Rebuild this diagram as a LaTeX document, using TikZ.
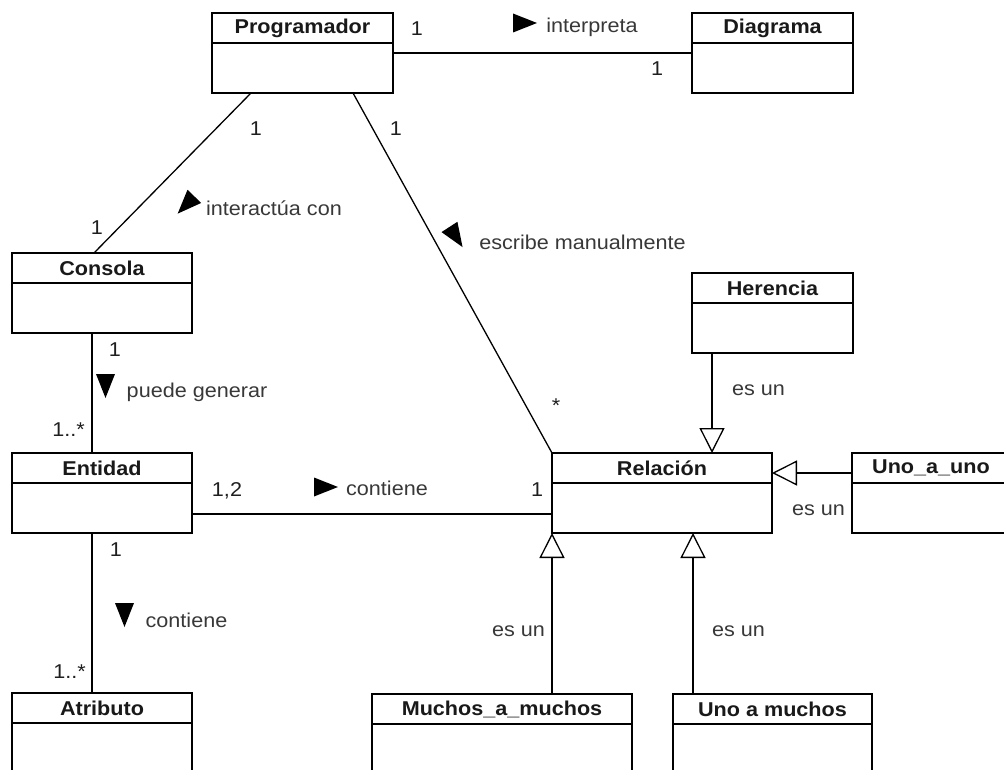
\documentclass[tikz,border=0pt]{standalone}
\usepackage{fontspec}
\setmainfont{Liberation Sans}[FakeStretch=1.08]
\usetikzlibrary{arrows.meta}

% class box: name, left, top, width, height, title
\newcommand\umlclass[6]{%
  \node[classbox, minimum width=#4pt, minimum height=#5pt] (#1) at (#2,#3) {};
  \draw[divider] ([yshift=-30pt]#1.north west) -- ([yshift=-30pt]#1.north east);
  \node[classname] (#1-title) at ([yshift=-15pt]#1.north) {#6};
}

\begin{document}
\begin{tikzpicture}[x=1pt,y=-1pt,
  classbox/.style={draw, line width=1.8pt, rectangle, anchor=north west,
    inner sep=0pt, outer sep=0pt, fill=white},
  divider/.style={line width=1.6pt},
  classname/.style={font=\fontsize{20pt}{22pt}\selectfont\bfseries, text=black!90, inner sep=0pt},
  assoc/.style={line width=1.3pt},
  isa/.style={line width=1.3pt, -{Triangle[open, length=25pt, width=25pt, fill=white]}},
  lbl/.style={font=\fontsize{20pt}{22pt}\selectfont, text=black!78, inner sep=0pt},
  mult/.style={font=\fontsize{20pt}{22pt}\selectfont, text=black!88, inner sep=0pt},
  dirtri/.pic={\fill[black] (-12,-9.5) -- (12,0) -- (-12,9.5) -- cycle;}
]
\useasboundingbox (0,0) rectangle (1004,770);
\clip (0,0) rectangle (1004,770);

% classes
\umlclass{prog}{212}{13}{181}{80}{Programador}
\umlclass{diag}{692}{13}{161}{80}{Diagrama}
\umlclass{cons}{12}{253}{180}{80}{Consola}
\umlclass{ent}{12}{453}{180}{80}{Entidad}
\umlclass{atr}{12}{693}{180}{100}{Atributo}
\umlclass{her}{692}{273}{161}{80}{Herencia}
\umlclass{rel}{552}{453}{220}{80}{Relación}
\umlclass{uau}{852}{453}{158}{80}{Uno\_a\_uno}
\umlclass{mam}{372}{694}{260}{100}{Muchos\_a\_muchos}
\umlclass{uam}{673}{694}{199}{100}{Uno a muchos}

% associations
\draw[assoc] ([yshift=-40pt]prog.north east) -- ([yshift=-40pt]diag.north west);
\draw[assoc] ([xshift=39pt]prog.south west) -- ([xshift=82pt]cons.north west);
\draw[assoc] ([xshift=141pt]prog.south west) -- (rel.north west);
\draw[assoc] ([xshift=80pt]cons.south west) -- ([xshift=80pt]ent.north west);
\draw[assoc] ([yshift=-61pt]ent.north east) -- ([yshift=-61pt]rel.north west);
\draw[assoc] ([xshift=80pt]ent.south west) -- ([xshift=80pt]atr.north west);

% generalizations
\draw[isa] ([xshift=20pt]her.south west) -- ([xshift=160pt]rel.north west);
\draw[isa] ([yshift=-20pt]uau.north west) -- ([yshift=-20pt]rel.north east);
\draw[isa] ([xshift=180pt]mam.north west) -- (rel.south west);
\draw[isa] ([xshift=20pt]uam.north west) -- ([xshift=141pt]rel.south west);

% reading-direction markers
\pic at (525,23) {dirtri};
\pic[rotate=-134] at (186,205) {dirtri};
\pic[rotate=-57] at (456,237) {dirtri};
\pic[rotate=-90] at (105.5,386) {dirtri};
\pic at (326,487) {dirtri};
\pic[rotate=-90] at (124.5,615) {dirtri};

% association names
\node[lbl] (l-interpreta) at (592,27) {interpreta};
\node[lbl] (l-interactua) at (274,208) {interactúa con};
\node[lbl] (l-escribe) at (582.5,242) {escribe manualmente};
\node[lbl] (l-puede) at (197,392) {puede generar};
\node[lbl] (l-contiene1) at (387,488) {contiene};
\node[lbl] (l-contiene2) at (186.5,620) {contiene};

% generalization labels
\node[lbl] (g-her) at (758.5,390) {es un};
\node[lbl] (g-uau) at (818.5,510) {es un};
\node[lbl] (g-mam) at (518.5,631) {es un};
\node[lbl] (g-uam) at (738.5,631) {es un};

% multiplicities
\node[mult] (m1) at (417,29) {1};
\node[mult] (m2) at (657,69) {1};
\node[mult] (m3) at (256,129) {1};
\node[mult] (m4) at (97,228) {1};
\node[mult] (m5) at (396,129) {1};
\node[mult] (m6) at (556,406) {*};
\node[mult] (m7) at (115,350) {1};
\node[mult] (m8) at (68.5,430) {1..*};
\node[mult] (m9) at (227,491) {1,2};
\node[mult] (m10) at (537,490) {1};
\node[mult] (m11) at (116,550) {1};
\node[mult] (m12) at (69.5,672) {1..*};
\end{tikzpicture}
\end{document}
